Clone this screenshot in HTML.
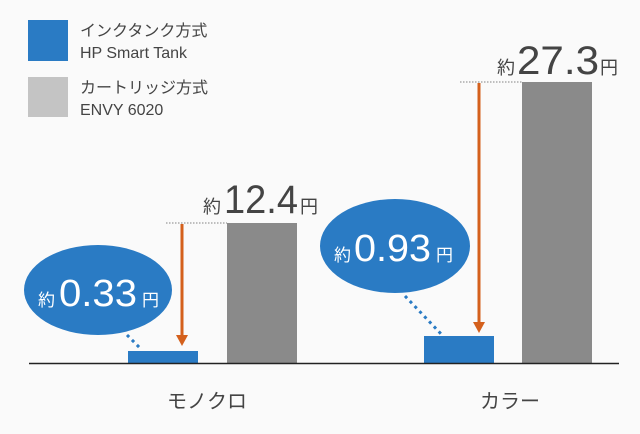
<!DOCTYPE html>
<html><head><meta charset="utf-8"><style>
body{margin:0;background:#fafafa;}
svg{display:block;font-family:"Liberation Sans","Noto Sans CJK JP",sans-serif;}
</style></head><body>
<svg width="640" height="434" viewBox="0 0 640 434">
<rect width="640" height="434" fill="#fafafa"/>
<rect x="28" y="20" width="40" height="41" fill="#2a7bc4"/>
<rect x="28" y="77" width="40" height="40" fill="#c4c4c4"/>
<g fill="#444" font-size="16">
<text x="80" y="36">インクタンク方式</text>
<text x="80" y="58">HP Smart Tank</text>
<text x="80" y="93">カートリッジ方式</text>
<text x="80" y="115">ENVY 6020</text>
</g>
<rect x="128" y="351" width="70" height="12" fill="#2a7bc4"/>
<rect x="227" y="223" width="70" height="140" fill="#8a8a8a"/>
<rect x="424" y="336" width="70" height="27" fill="#2a7bc4"/>
<rect x="522" y="82" width="70" height="281" fill="#8a8a8a"/>
<line x1="29" y1="363.5" x2="619" y2="363.5" stroke="#222" stroke-width="1.5"/>
<line x1="166" y1="223" x2="227" y2="223" stroke="#aaa" stroke-width="1.5" stroke-dasharray="1.5 1.5"/>
<line x1="460" y1="82" x2="522" y2="82" stroke="#aaa" stroke-width="1.5" stroke-dasharray="1.5 1.5"/>
<line x1="182" y1="224" x2="182" y2="336" stroke="#d4601c" stroke-width="3"/>
<polygon points="176,335 188,335 182,346" fill="#d4601c"/>
<line x1="479" y1="83" x2="479" y2="323" stroke="#d4601c" stroke-width="3"/>
<polygon points="473,322 485,322 479,333" fill="#d4601c"/>
<line x1="127" y1="335" x2="141" y2="349" stroke="#2a7bc4" stroke-width="3" stroke-dasharray="3 4"/>
<line x1="405" y1="296" x2="443" y2="336" stroke="#2a7bc4" stroke-width="3" stroke-dasharray="3 4"/>
<ellipse cx="98" cy="290" rx="74" ry="45" fill="#2a7bc4"/>
<ellipse cx="395" cy="246" rx="75" ry="47" fill="#2a7bc4"/>
<g fill="#fff">
<text x="38" y="306" font-size="17">約</text>
<text x="59" y="306" font-size="38" textLength="78" lengthAdjust="spacingAndGlyphs">0.33</text>
<text x="142" y="306" font-size="17">円</text>
<text x="334" y="261" font-size="17">約</text>
<text x="354" y="261" font-size="38" textLength="77" lengthAdjust="spacingAndGlyphs">0.93</text>
<text x="436" y="261" font-size="17">円</text>
</g>
<g fill="#444">
<text x="203" y="213" font-size="18">約</text>
<text x="224" y="213" font-size="40" textLength="74" lengthAdjust="spacingAndGlyphs">12.4</text>
<text x="300" y="213" font-size="18">円</text>
<text x="497" y="74" font-size="18">約</text>
<text x="517" y="74" font-size="40" textLength="82" lengthAdjust="spacingAndGlyphs">27.3</text>
<text x="600" y="74" font-size="18">円</text>
<text x="207" y="408" font-size="20" text-anchor="middle">モノクロ</text>
<text x="510" y="408" font-size="20" text-anchor="middle">カラー</text>
</g>
</svg>
</body></html>
